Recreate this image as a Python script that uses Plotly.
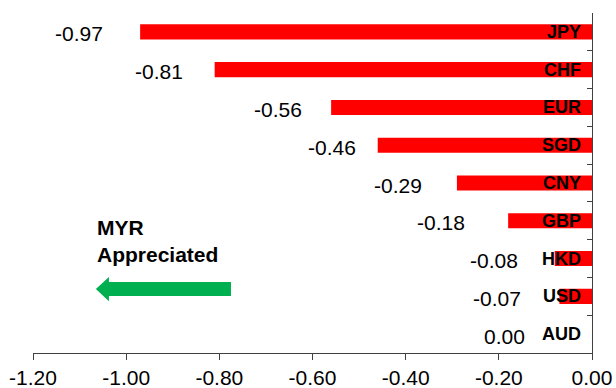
import plotly.graph_objects as go

# MYR change against major currencies
currencies = ["JPY", "CHF", "EUR", "SGD", "CNY", "GBP", "HKD", "USD", "AUD"]
changes = [-0.97, -0.81, -0.56, -0.46, -0.29, -0.18, -0.08, -0.07, 0.00]

# tick values for the horizontal axis
x_ticks = [-1.2, -1.0, -0.8, -0.6, -0.4, -0.2, 0.0]
x_tick_labels = ["-1.20", "-1.00", "-0.80", "-0.60", "-0.40", "-0.20", "0.00"]

# pixel gap between each value label and the start of its bar
label_gaps = [35, 30, 27, 20, 33, 41, 35, 36, 65]

FONT = "Liberation Sans, Arial, sans-serif"
BAR_RED = "#FF0000"
ARROW_GREEN = "#00B050"
AXIS_GREY = "#404040"

fig = go.Figure()
fig.add_trace(go.Bar(
    x=changes,
    y=currencies,
    orientation="h",
    marker=dict(color=BAR_RED, line=dict(width=0)),
    hoverinfo="x+y",
    showlegend=False,
))

annotations = []
# value labels to the left of each bar
for cur, val, gap in zip(currencies, changes, label_gaps):
    annotations.append(dict(
        x=val, y=cur, xref="x", yref="y",
        text=f"{val:.2f}", showarrow=False,
        xanchor="right", yanchor="middle",
        xshift=-gap, yshift=-2,
        font=dict(family=FONT, size=21, color="#000000"),
    ))
# currency codes just inside the right axis
for cur in currencies:
    annotations.append(dict(
        x=0, y=cur, xref="x", yref="y",
        text=f"<b>{cur}</b>", showarrow=False,
        xanchor="right", yanchor="middle",
        xshift=-9,
        font=dict(family=FONT, size=18, color="#000000"),
    ))
# direction note
annotations.append(dict(
    x=0.111, y=0.408, xref="paper", yref="paper",
    text="<b>MYR<br>Appreciated</b>", showarrow=False,
    xanchor="left", yanchor="top", align="left",
    font=dict(family=FONT, size=21, color="#000000"),
))

# green arrow pointing left (x in data units, y in paper units)
tip_x, head_x, tail_x = -1.065, -1.037, -0.775
y_mid, shaft_half, head_half = 0.188, 0.0206, 0.0355
arrow_path = (
    f"M {tip_x},{y_mid} "
    f"L {head_x},{y_mid + head_half} "
    f"L {head_x},{y_mid + shaft_half} "
    f"L {tail_x},{y_mid + shaft_half} "
    f"L {tail_x},{y_mid - shaft_half} "
    f"L {head_x},{y_mid - shaft_half} "
    f"L {head_x},{y_mid - head_half} Z"
)

fig.update_layout(
    width=616, height=388,
    margin=dict(l=33, r=24, t=13, b=35, autoexpand=False),
    paper_bgcolor="white", plot_bgcolor="white",
    bargap=0.6,
    annotations=annotations,
    shapes=[dict(
        type="path", path=arrow_path, xref="x", yref="paper",
        fillcolor=ARROW_GREEN, line=dict(width=0), layer="above",
    )],
    xaxis=dict(
        range=[-1.2, 0.0],
        tickvals=x_ticks, ticktext=x_tick_labels,
        showgrid=False, zeroline=False,
        showline=True, linecolor=AXIS_GREY, linewidth=1,
        ticks="outside", ticklen=6, tickcolor=AXIS_GREY, tickwidth=1,
        tickfont=dict(family=FONT, size=21, color="#000000"),
        automargin=False,
        fixedrange=True,
    ),
    yaxis=dict(
        side="right",
        autorange="reversed",
        showgrid=False, zeroline=False,
        showline=True, linecolor=AXIS_GREY, linewidth=1,
        ticks="inside", ticklen=5, tickcolor=AXIS_GREY, tickwidth=1,
        tickson="boundaries",
        showticklabels=False,
        automargin=False,
        fixedrange=True,
    ),
)

fig.write_html("out.html")
